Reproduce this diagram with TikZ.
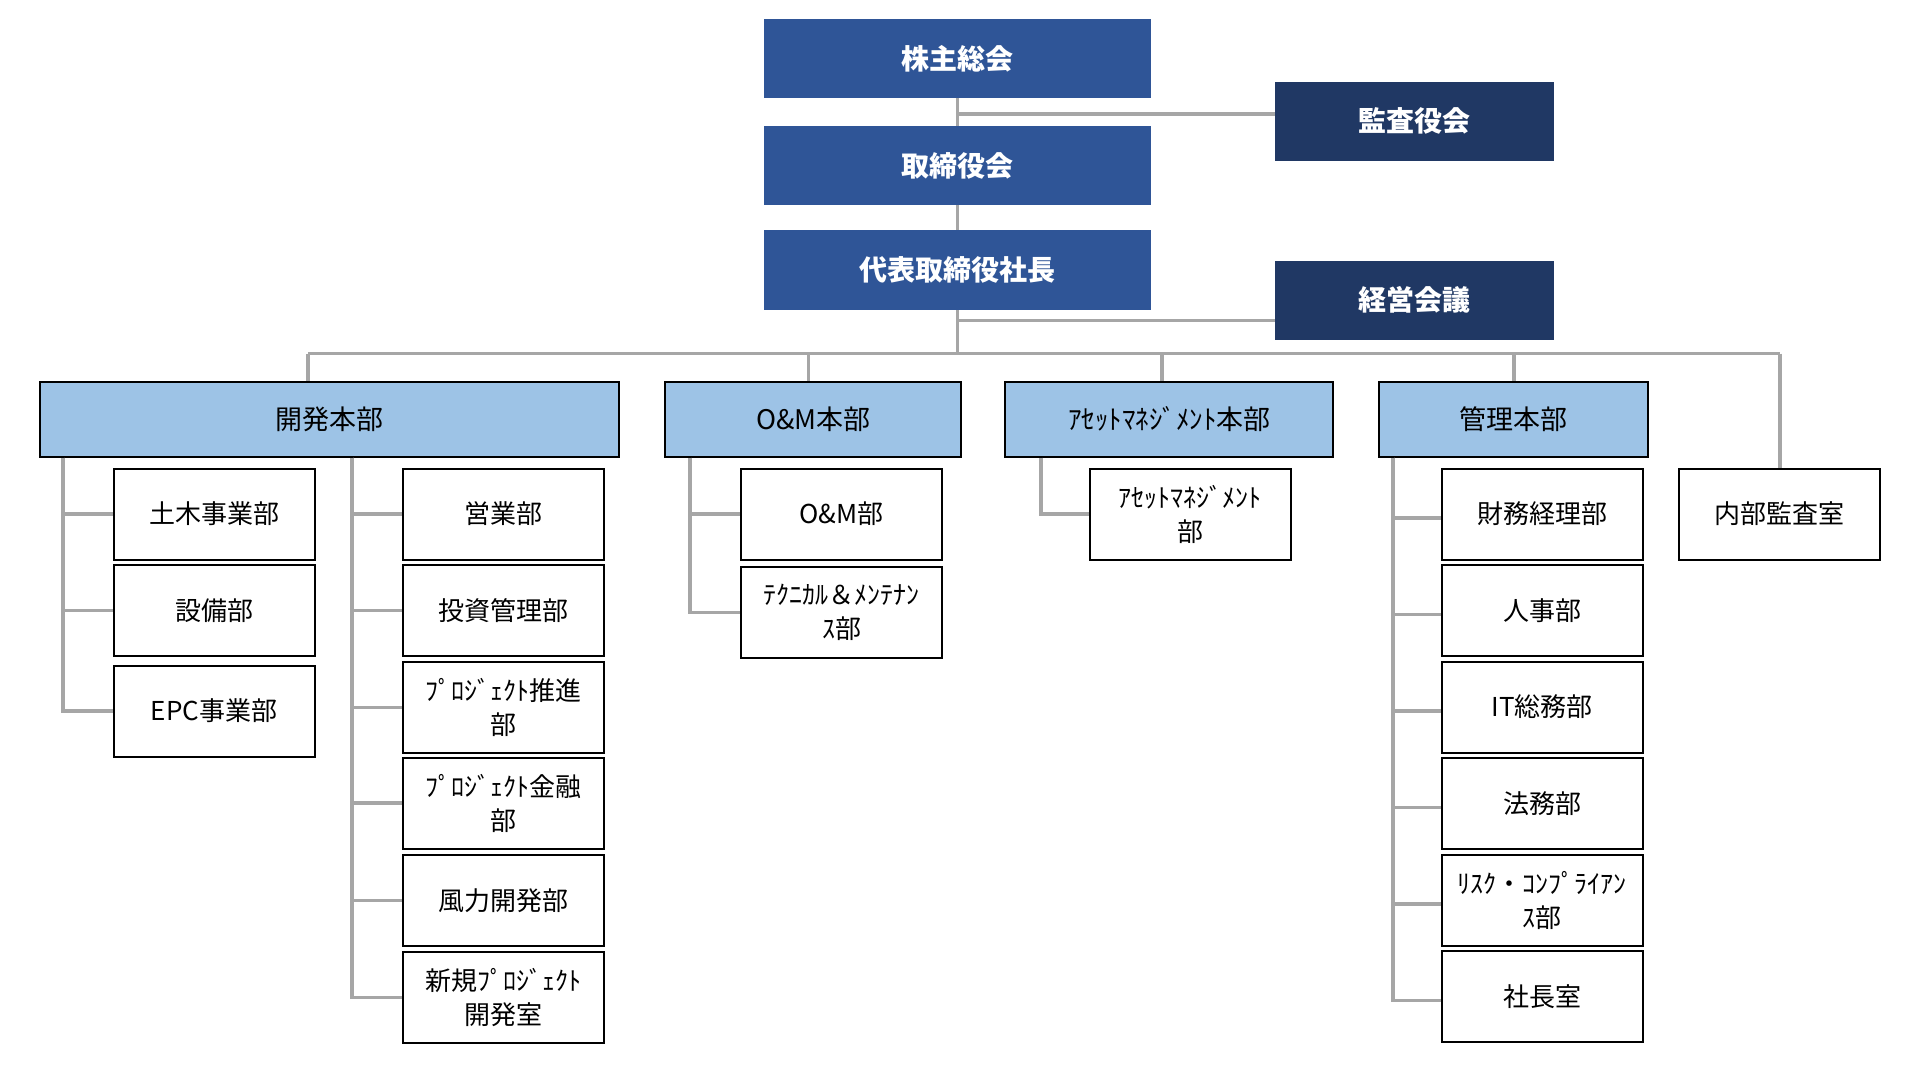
\documentclass[tikz,border=0pt]{standalone}
\usepackage{fontspec}
\setmainfont{Noto Sans CJK JP}
\definecolor{topblue}{HTML}{2F5597}
\definecolor{darkblue}{HTML}{203864}
\definecolor{lightblue}{HTML}{9DC3E6}
\definecolor{linegray}{HTML}{A6A6A6}
\begin{document}
\begin{tikzpicture}[x=1pt,y=-1pt,
  topbox/.style={rectangle, fill=topblue, text=white, font=\bfseries\fontsize{28}{34}\selectfont, minimum width=387pt, minimum height=79pt, inner sep=0pt, outer sep=0pt},
  darkbox/.style={topbox, fill=darkblue, minimum width=279pt},
  hqbox/.style={rectangle, draw=black, line width=2pt, fill=lightblue, font=\fontsize{27}{34}\selectfont, minimum height=75pt, inner sep=0pt},
  deptbox/.style={rectangle, draw=black, line width=2pt, fill=white, font=\fontsize{26}{34}\selectfont, align=center, minimum width=201pt, minimum height=91pt, inner sep=0pt},
  conn/.style={draw=linegray, line width=3.4pt}]
\useasboundingbox (0,0) rectangle (1918,1079);
\fill[white] (0,0) rectangle (1918,1079);

% coordinates for connector routing
\coordinate (a1) at (957.5,114);
\coordinate (m1) at (957.5,320.5);
\coordinate (bus) at (957.5,353.5);
\coordinate (b1) at (308,353.5);
\coordinate (b2) at (808.5,353.5);
\coordinate (b3) at (1162,353.5);
\coordinate (b4) at (1514,353.5);
\coordinate (b5) at (1780,353.5);
\coordinate (xdevL) at (63,419);
\coordinate (xdevR) at (352,419);
\coordinate (xom) at (690,419);
\coordinate (xam) at (1041,419);
\coordinate (xkanri) at (1393,419);

% top level
\node[topbox] (gm) at (957.5,58.5) {株主総会};
\node[topbox] (board) at (957.5,165.5) {取締役会};
\node[topbox, minimum height=80pt] (ceo) at (957.5,270) {代表取締役社長};
\node[darkbox] (audit) at (1414,121) {監査役会};
\node[darkbox] (mgmt) at (1414,300) {経営会議};

% headquarters
\node[hqbox, minimum width=579pt] (dev) at (329.7,419) {開発本部};
\node[hqbox, minimum width=296pt] (omhq) at (813.4,419) {O\&M本部};
\node[hqbox, minimum width=328pt] (amhq) at (1169.4,419) {ｱｾｯﾄﾏﾈｼﾞﾒﾝﾄ本部};
\node[hqbox, minimum width=269pt] (kanri) at (1513,419) {管理本部};

% departments
\node[deptbox] (doboku) at (214,514) {土木事業部};
\node[deptbox] (setsubi) at (214,610.5) {設備部};
\node[deptbox] (epc) at (214,711) {EPC事業部};

\node[deptbox] (eigyo) at (503.5,514) {営業部};
\node[deptbox] (toushi) at (503.5,610.5) {投資管理部};
\node[deptbox] (suishin) at (503.5,707.2) {ﾌﾟﾛｼﾞｪｸﾄ推進\\部};
\node[deptbox] (kinyu) at (503.5,803) {ﾌﾟﾛｼﾞｪｸﾄ金融\\部};
\node[deptbox] (furyoku) at (503.5,900.3) {風力開発部};
\node[deptbox] (shinki) at (503.5,997.2) {新規ﾌﾟﾛｼﾞｪｸﾄ\\開発室};

\node[deptbox] (om) at (841.5,514) {O\&M部};
\node[deptbox] (tech) at (841.5,612.2) {ﾃｸﾆｶﾙ＆ﾒﾝﾃﾅﾝ\\ｽ部};

\node[deptbox] (am) at (1190,514) {ｱｾｯﾄﾏﾈｼﾞﾒﾝﾄ\\部};

\node[deptbox] (zaimu) at (1542,514) {財務経理部};
\node[deptbox] (jinji) at (1542,610.4) {人事部};
\node[deptbox] (itdept) at (1542,707) {IT総務部};
\node[deptbox] (houmu) at (1542,803.4) {法務部};
\node[deptbox] (risk) at (1542,900) {ﾘｽｸ・ｺﾝﾌﾟﾗｲｱﾝ\\ｽ部};
\node[deptbox] (shacho) at (1542,996.2) {社長室};

\node[deptbox] (naibu) at (1779,514) {内部監査室};

% top connectors
\draw[conn] (gm.south) -- (board.north);
\draw[conn] (board.south) -- (ceo.north);
\draw[conn] (a1) -- (a1 -| audit.west);
\draw[conn] (m1) -- (m1 -| mgmt.west);
\draw[conn] (ceo.south) -- (bus);
\draw[conn] (b1) -- (b5);
\draw[conn] (b1) -- (b1 |- dev.north);
\draw[conn] (b2) -- (b2 |- omhq.north);
\draw[conn] (b3) -- (b3 |- amhq.north);
\draw[conn] (b4) -- (b4 |- kanri.north);
\draw[conn] (b5) -- (b5 |- naibu.north);

% 開発本部
\foreach \c in {doboku,setsubi,epc}
  \draw[conn] (xdevL |- dev.south) |- (\c.west);
\foreach \c in {eigyo,toushi,suishin,kinyu,furyoku,shinki}
  \draw[conn] (xdevR |- dev.south) |- (\c.west);
% O&M本部
\foreach \c in {om,tech}
  \draw[conn] (xom |- omhq.south) |- (\c.west);
% アセットマネジメント本部
\draw[conn] (xam |- amhq.south) |- (am.west);
% 管理本部
\foreach \c in {zaimu,jinji,itdept,houmu,risk,shacho}
  \draw[conn] (xkanri |- kanri.south) |- ([yshift=-4pt]\c.west);
\end{tikzpicture}
\end{document}
